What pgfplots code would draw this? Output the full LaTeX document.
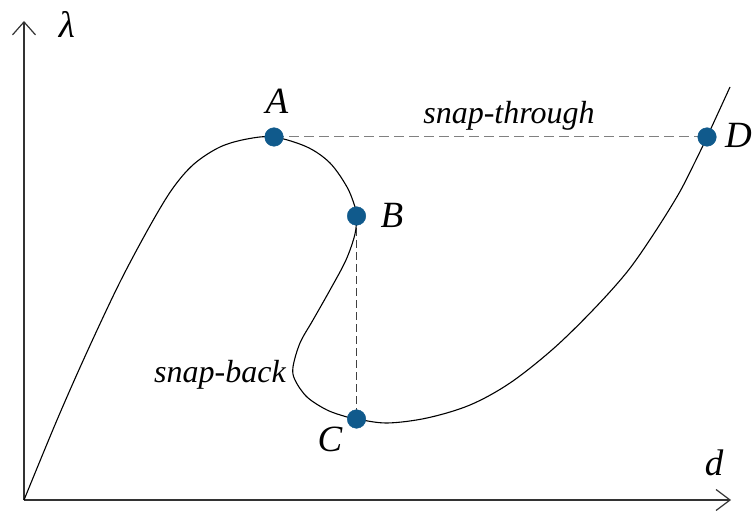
\documentclass[border=0pt]{standalone}
\usepackage{fontspec}
\setmainfont{Liberation Serif}
\usepackage{pgfplots}
\pgfplotsset{compat=1.18}
\usetikzlibrary{arrows.meta}

\definecolor{ptblue}{HTML}{105A8C}
\definecolor{axisgray}{HTML}{333333}

\newcommand{\lblfont}{\fontsize{37}{40}\selectfont\itshape}
\newcommand{\txtfont}{\fontsize{32}{35}\selectfont\itshape}

\begin{document}
\begin{tikzpicture}
\useasboundingbox (0,0) rectangle (752pt,512pt);
\begin{axis}[
  at={(0,0)}, anchor=south west,
  scale only axis, width=752pt, height=512pt,
  xmin=-24, xmax=728, ymin=-12, ymax=500,
  hide axis, clip=false,
]
% coordinate axes
\draw[axisgray, line width=1.2pt, -{Straight Barb[length=13pt,width=23pt,line width=1.2pt]}]
  (axis cs:0,0) -- (axis cs:0,479);
\draw[axisgray, line width=1.2pt, -{Straight Barb[length=14pt,width=21pt,line width=1.2pt]}]
  (axis cs:0,0) -- (axis cs:707,0);

% snap-through jump A -> D and snap-back jump B -> C
\addplot[gray, line width=1pt, dash pattern=on 10pt off 5pt] coordinates {(250,363) (683,363)};
\addplot[black!75, line width=1pt, dash pattern=on 8pt off 4pt] coordinates {(332.5,284) (332.5,81)};

% equilibrium path
\addplot[black, line width=1.1pt, smooth, tension=0.55] coordinates {
  (0,0) (33,80) (63,148) (96,218) (127,276) (149,312) (170,336) (196,353)
  (223,361) (250,363) (283,353) (306,337) (323,313) (331,293) (332.5,284)
  (331,266) (322,240) (306,210) (289,180) (276,157) (269,133) (271,120)
  (283,103) (303,90) (323,83) (332.5,81) (363,77) (403,82) (446,95)
  (486,117) (529,151) (569,190) (603,228) (629,265) (654,305) (669,334)
  (683,363) (706,413)
};

% critical points
\addplot[only marks, mark=*, mark size=9.3pt, color=ptblue, mark options={draw=ptblue, fill=ptblue}]
  coordinates {(250,363) (332.5,284) (332.5,81) (683,363)};

% labels
\node[anchor=base] at (axis cs:43,462) {\lblfont λ};
\node[anchor=base] at (axis cs:690,25) {\lblfont d};
\node[anchor=base] at (axis cs:253,386) {\lblfont A};
\node[anchor=base] at (axis cs:368,272) {\lblfont B};
\node[anchor=base] at (axis cs:306,49) {\lblfont C};
\node[anchor=base west, inner sep=0pt] at (axis cs:701,352) {\lblfont D};
\node[anchor=base] at (axis cs:485,376) {\txtfont snap-through};
\node[anchor=base] at (axis cs:196,118) {\txtfont snap-back};
\end{axis}
\end{tikzpicture}
\end{document}
